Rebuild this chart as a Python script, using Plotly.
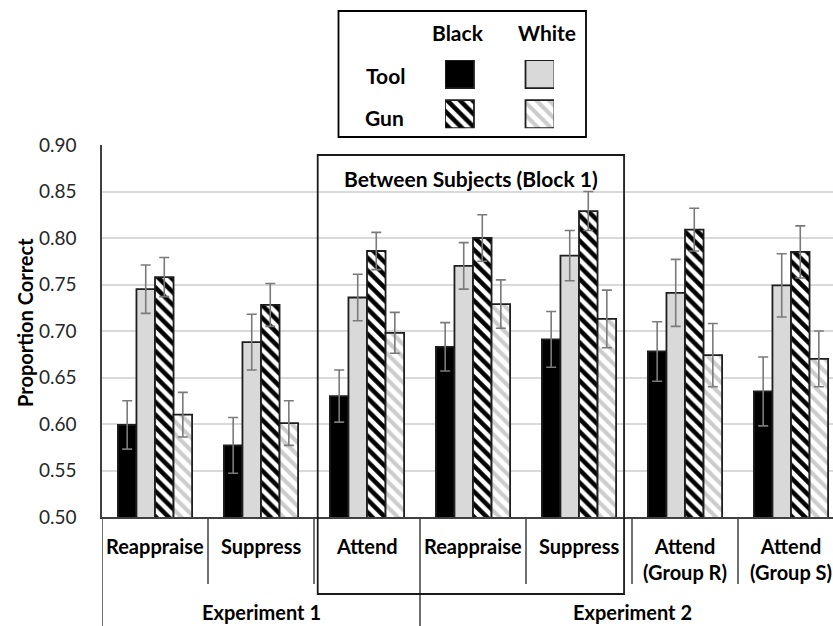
import plotly.graph_objects as go

# ---- data -----------------------------------------------------------------
conditions = ["Reappraise", "Suppress", "Attend", "Reappraise", "Suppress",
              "Attend<br>(Group R)", "Attend<br>(Group S)"]
experiments = ["Experiment 1", "Experiment 2"]
experiment_spans = [(0, 2), (3, 6)]          # first / last condition index
block1_span = (2, 4)                          # conditions inside the Block 1 box

black_tool = [0.599, 0.577, 0.630, 0.683, 0.691, 0.678, 0.635]
black_tool_err = [0.026, 0.030, 0.028, 0.026, 0.030, 0.032, 0.037]

white_tool = [0.745, 0.688, 0.736, 0.770, 0.781, 0.741, 0.749]
white_tool_err = [0.026, 0.030, 0.025, 0.025, 0.027, 0.036, 0.034]

black_gun = [0.758, 0.728, 0.786, 0.800, 0.829, 0.809, 0.785]
black_gun_err = [0.021, 0.023, 0.020, 0.025, 0.021, 0.023, 0.028]

white_gun = [0.610, 0.601, 0.698, 0.729, 0.713, 0.674, 0.670]
white_gun_err = [0.024, 0.024, 0.022, 0.026, 0.031, 0.034, 0.030]

y_ticks = [0.50, 0.55, 0.60, 0.65, 0.70, 0.75, 0.80, 0.85, 0.90]

# ---- geometry ---------------------------------------------------------------
W, H = 833, 626
ML, MR, MT, MB = 102, 0, 0, 109
PLOT_TOP = 145                       # pixel row of the 0.90 line
PW, PH = W - ML - MR, H - MT - MB
CAT_PX = 106.0                       # pixels per condition


def px_x(px):
    return (px - ML) / PW


def px_y(py):
    return (H - MB - py) / PH


FONT = "Lato"
LABEL_SIZE = 21
AXIS_LABEL_SIZE = 20
OUTLINE = dict(color="#1e1e1e", width=1.8)
ERR_STYLE = dict(type="data", color="#7a7a7a", thickness=1.6, width=5, visible=True)

styles = {
    "Black Tool": dict(marker=dict(color="#000000", line=OUTLINE)),
    "White Tool": dict(marker=dict(color="#d9d9d9", line=OUTLINE)),
    "Black Gun": dict(marker=dict(color="#ffffff", line=OUTLINE,
                                  pattern=dict(shape="\\", fgcolor="#000000", bgcolor="#ffffff",
                                               size=9, solidity=0.5, fgopacity=1,
                                               fillmode="replace"))),
    "White Gun": dict(marker=dict(color="#ffffff", line=OUTLINE,
                                  pattern=dict(shape="\\", fgcolor="#cccccc", bgcolor="#ffffff",
                                               size=9, solidity=0.45, fgopacity=1,
                                               fillmode="replace"))),
}

series = [
    ("Black Tool", black_tool, black_tool_err),
    ("White Tool", white_tool, white_tool_err),
    ("Black Gun", black_gun, black_gun_err),
    ("White Gun", white_gun, white_gun_err),
]

x_idx = list(range(len(conditions)))

fig = go.Figure()
for name, vals, errs in series:
    fig.add_trace(go.Bar(
        x=x_idx, y=vals, name=name, showlegend=False,
        error_y=dict(array=errs, **ERR_STYLE),
        **styles[name],
    ))

# ---- 2 x 2 key (Tool / Gun by Black / White) -------------------------------
key_x = [0, 1]        # Black, White columns
key_rows = {"Tool": 1, "Gun": 0}
key_cells = [("Black Tool", 0, "Tool"), ("White Tool", 1, "Tool"),
             ("Black Gun", 0, "Gun"), ("White Gun", 1, "Gun")]
for name, col, row in key_cells:
    fig.add_trace(go.Bar(
        x=[key_x[col]], y=[0.7], base=[key_rows[row] - 0.35], width=[0.36],
        offsetgroup="key", xaxis="x2", yaxis="y2", showlegend=False, hoverinfo="skip",
        **styles[name],
    ))

x_hi = -0.5 + PW / CAT_PX

fig.update_layout(
    width=W, height=H,
    margin=dict(l=ML, r=MR, t=MT, b=MB, pad=0, autoexpand=False),
    paper_bgcolor="white", plot_bgcolor="white",
    barmode="group", bargap=0.30, bargroupgap=0.0,
    font=dict(family=FONT, color="#000000"),
    xaxis=dict(
        range=[-0.5, x_hi], tickvals=x_idx, showticklabels=False,
        showgrid=False, zeroline=False, showline=True, linecolor="#404040", linewidth=1.5,
        ticks="", automargin=False,
    ),
    yaxis=dict(
        domain=[0, px_y(PLOT_TOP)], range=[0.5, 0.9], tickvals=y_ticks,
        tickformat=".2f", tickfont=dict(family=FONT, size=19, color="#262626"),
        showgrid=True, gridcolor="#d9d9d9", gridwidth=1.5,
        zeroline=False, showline=True, linecolor="#404040", linewidth=1.5,
        ticks="", ticklabelstandoff=20, automargin=False,
    ),
    xaxis2=dict(domain=[px_x(445), px_x(554)], range=[-0.18, 1.174], anchor="y2",
                visible=False, fixedrange=True, automargin=False),
    yaxis2=dict(domain=[px_y(128.3), px_y(60)], range=[-0.354, 1.354], anchor="x2",
                visible=False, fixedrange=True, automargin=False),
)

shapes = []
annotations = []

# key frame and labels
shapes.append(dict(type="rect", xref="paper", yref="paper",
                   x0=px_x(338.5), x1=px_x(586), y0=px_y(137), y1=px_y(11),
                   line=dict(color="#000000", width=1.8)))
for txt, cx, cy in [("Black", 458, 33), ("White", 547, 33),
                    ("Tool", 385, 75), ("Gun", 384, 117)]:
    annotations.append(dict(text=f"<b>{txt}</b>", xref="paper", yref="paper",
                            x=px_x(cx), y=px_y(cy), showarrow=False,
                            xanchor="center", yanchor="middle",
                            font=dict(family=FONT, size=LABEL_SIZE, color="#000000")))

# y-axis title
annotations.append(dict(text="<b>Proportion Correct</b>", xref="paper", yref="paper",
                        x=px_x(25), y=px_y(323), textangle=-90, showarrow=False,
                        xanchor="center", yanchor="middle",
                        font=dict(family=FONT, size=20, color="#000000")))

# condition labels under each group of bars
for k, label in enumerate(conditions):
    annotations.append(dict(text=f"<b>{label}</b>", xref="x", yref="paper",
                            x=k, y=px_y(532), showarrow=False,
                            xanchor="center", yanchor="top", align="center",
                            font=dict(family=FONT, size=AXIS_LABEL_SIZE, color="#000000")))

# dividers below the axis: conditions (short) and experiments (long)
exp_bounds = {s - 0.5 for s, _ in experiment_spans}
for k in range(len(conditions)):
    xb = k - 0.5
    long_line = xb in exp_bounds
    shapes.append(dict(type="line", xref="x", yref="paper", x0=xb, x1=xb,
                       y0=px_y(517), y1=px_y(626 if long_line else 584),
                       line=dict(color="#404040", width=1.5)))

# experiment labels
for label, (a, b) in zip(experiments, experiment_spans):
    annotations.append(dict(text=f"<b>{label}</b>", xref="x", yref="paper",
                            x=(a + b) / 2, y=px_y(612), showarrow=False,
                            xanchor="center", yanchor="middle",
                            font=dict(family=FONT, size=AXIS_LABEL_SIZE, color="#000000")))

# Block 1 box
bx0 = block1_span[0] - 0.5 + 0.035
bx1 = block1_span[1] + 0.5 - 0.075
shapes.append(dict(type="rect", xref="x", yref="paper", x0=bx0, x1=bx1,
                   y0=px_y(594), y1=px_y(155),
                   line=dict(color="#1a1a1a", width=1.8)))
annotations.append(dict(text="<b>Between Subjects (Block 1)</b>", xref="x", yref="paper",
                        x=(bx0 + bx1) / 2, y=px_y(178), showarrow=False,
                        xanchor="center", yanchor="middle",
                        font=dict(family=FONT, size=LABEL_SIZE, color="#000000")))

fig.update_layout(shapes=shapes, annotations=annotations)

fig.write_html("out.html")
